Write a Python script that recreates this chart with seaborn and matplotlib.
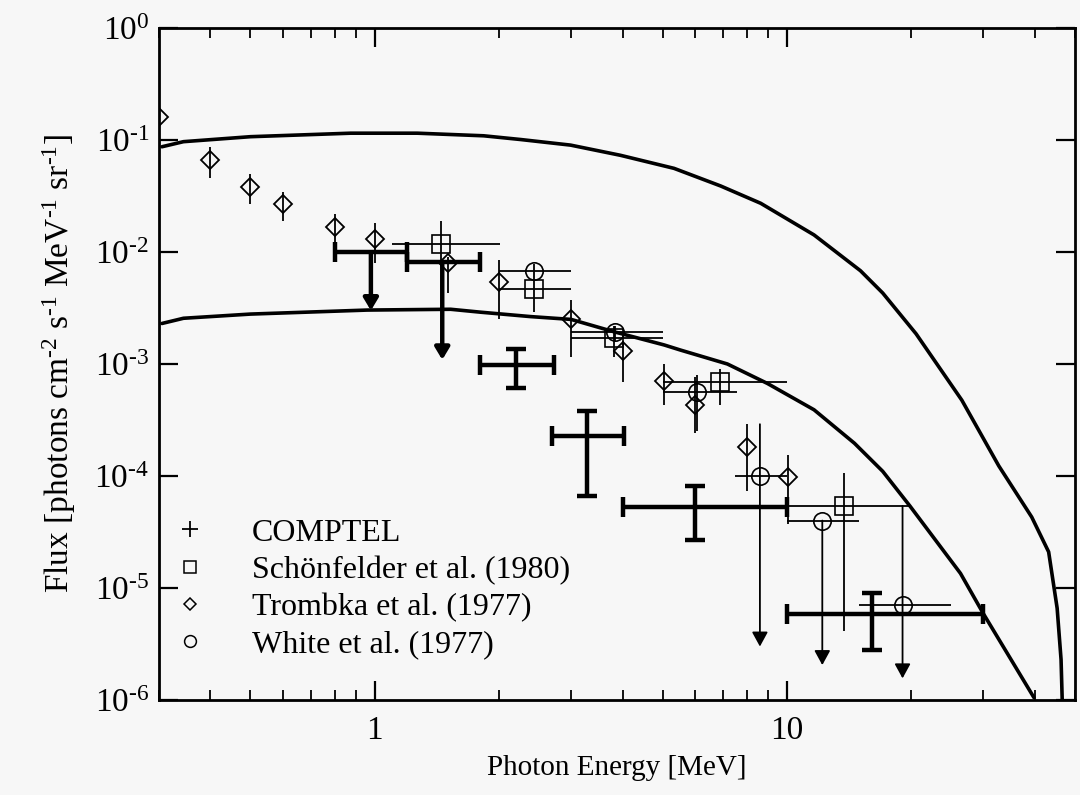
import numpy as np
import matplotlib
matplotlib.use('Agg')
import matplotlib.pyplot as plt
import matplotlib.ticker as ticker
from matplotlib.lines import Line2D
import seaborn as sns

# model curves
upper_E = [0.305, 0.344, 0.5, 0.875, 1.27, 1.84, 2.26, 2.99, 3.95, 5.33, 6.92, 8.65,
           11.65, 15.1, 17.1, 20.6, 26.6, 32.7, 39.3, 43.2, 45.3, 46.3, 46.6]
upper_F = [0.087, 0.0966, 0.107, 0.115, 0.115, 0.109, 0.101, 0.090, 0.073, 0.0558, 0.0388, 0.0272,
           0.0142, 0.0068, 0.0043, 0.00186, 4.75e-4, 1.23e-4, 4.3e-5, 2.1e-5, 6.6e-6, 2.3e-6, 1.0e-6]
lower_E = [0.305, 0.344, 0.5, 0.96, 1.53, 1.81, 2.39, 3.0, 3.81, 5.04, 5.53, 7.18, 8.98,
           11.65, 14.6, 17.1, 19.9, 26.4, 30.0, 39.8]
lower_F = [0.0023, 0.00256, 0.00279, 0.00303, 0.00308, 0.0029, 0.00265, 0.0025, 0.00194, 0.00148,
           1.33e-3, 1.0e-3, 6.7e-4, 3.9e-4, 1.96e-4, 1.1e-4, 5.4e-5, 1.35e-5, 5.9e-6, 1.05e-6]

# COMPTEL
comptel_E = [0.98, 1.46, 2.2, 3.28, 6.0, 16.1]
comptel_Elo = [0.80, 1.2, 1.8, 2.7, 4.0, 10.0]
comptel_Ehi = [1.2, 1.8, 2.72, 4.04, 10.0, 30.0]
comptel_F = [0.0099, 0.0082, 9.8e-4, 2.28e-4, 5.3e-5, 5.86e-6]
comptel_Flo = [0.0030, 0.00109, 6.15e-4, 6.6e-5, 2.7e-5, 2.8e-6]
comptel_Fhi = [0.0099, 0.0082, 1.37e-3, 3.8e-4, 8.2e-5, 9.0e-6]
comptel_ul = [True, True, False, False, False, False]

# Schoenfelder et al. (1980)
sch_E = [1.45, 2.44, 3.81, 6.89, 13.8]
sch_Elo = [1.10, 2.0, 3.0, 5.0, 10.0]
sch_Ehi = [2.02, 3.0, 5.0, 10.0, 20.0]
sch_F = [0.0119, 0.0047, 0.0017, 6.95e-4, 5.4e-5]
sch_Flo = [0.0075, 0.0029, 0.00115, 4.3e-4, 4.1e-6]
sch_Fhi = [0.019, 0.0059, 0.0022, 9.1e-4, 1.06e-4]

# Trombka et al. (1977)
tro_E = [0.30, 0.40, 0.50, 0.60, 0.80, 1.0, 1.51, 2.01, 3.0, 4.01, 5.04, 6.0, 8.03, 10.1]
tro_F = [0.16, 0.066, 0.038, 0.0268, 0.0168, 0.0131, 0.0080, 0.00543, 0.0025, 0.0013,
         7.0e-4, 4.3e-4, 1.83e-4, 9.7e-5]
tro_Fhi = [0.19, 0.087, 0.050, 0.0345, 0.0218, 0.0181, 0.0091, 0.0085, 0.0037, 0.0016,
           9.9e-4, 7.7e-4, 2.9e-4, 1.55e-4]
tro_Flo = [0.135, 0.0455, 0.027, 0.0188, 0.0118, 0.0080, 0.0043, 0.0025, 0.00116, 6.9e-4,
           4.3e-4, 2.4e-4, 7.3e-5, 3.7e-5]

# White et al. (1977)
whi_E = [2.44, 3.83, 6.07, 8.61, 12.2, 19.1]
whi_Elo = [2.0, 3.0, 5.0, 7.5, 10.0, 15.0]
whi_Ehi = [3.0, 5.0, 7.56, 10.0, 15.0, 25.0]
whi_F = [0.0068, 0.00195, 5.66e-4, 1.0e-4, 4.0e-5, 7.05e-6]
whi_Fhi = [0.0078, 0.0022, 7.9e-4, 2.9e-4, 4.0e-5, 5.4e-5]
whi_Flo = [0.0059, 0.0016, 2.5e-4, 3.0e-6, 2.05e-6, 1.56e-6]
whi_ul = [False, False, False, True, True, True]

legend_labels = ['COMPTEL', 'Schönfelder et al. (1980)', 'Trombka et al. (1977)', 'White et al. (1977)']

sns.set_theme(style='ticks')
plt.rcParams['font.family'] = ['Liberation Serif', 'DejaVu Serif']
plt.rcParams['mathtext.fontset'] = 'custom'
plt.rcParams['mathtext.rm'] = 'Liberation Serif'
plt.rcParams['mathtext.it'] = 'Liberation Serif:italic'
plt.rcParams['mathtext.bf'] = 'Liberation Serif:bold'
for k in ['text.color', 'axes.labelcolor', 'xtick.color', 'ytick.color', 'axes.edgecolor']:
    plt.rcParams[k] = 'black'

bg = '#f7f7f7'
fig = plt.figure(figsize=(10.8, 7.95), dpi=100, facecolor=bg)
ax = fig.add_axes([0.1472, 0.1195, 0.848, 0.8453])
ax.set_facecolor(bg)
ax.set_xscale('log')
ax.set_yscale('log')

# curves
sns.lineplot(x=upper_E, y=upper_F, ax=ax, color='black', lw=2.6, sort=False, estimator=None)
sns.lineplot(x=lower_E, y=lower_F, ax=ax, color='black', lw=2.6, sort=False, estimator=None)


def asym(c, lo, hi):
    c, lo, hi = np.asarray(c), np.asarray(lo), np.asarray(hi)
    return [c - lo, hi - c]


def down_arrow(x, ytop, ybot, lw, style):
    ax.annotate('', xy=(x, ybot), xytext=(x, ytop),
                arrowprops=dict(arrowstyle=style, color='black', lw=lw, mutation_scale=16,
                                shrinkA=0, shrinkB=0))


thin = 1.3

# Trombka
ax.errorbar(tro_E, tro_F, yerr=asym(tro_F, tro_Flo, tro_Fhi), fmt='D', ms=9.5,
            mfc='none', mec='black', mew=1.3, ecolor='black', elinewidth=thin, capsize=0, zorder=3)

# Schoenfelder
ax.errorbar(sch_E, sch_F, xerr=asym(sch_E, sch_Elo, sch_Ehi), yerr=asym(sch_F, sch_Flo, sch_Fhi),
            fmt='s', ms=13, mfc='none', mec='black', mew=1.2, ecolor='black', elinewidth=thin,
            capsize=0, zorder=3)

# White
ul = np.array(whi_ul)
wE, wF = np.array(whi_E), np.array(whi_F)
wElo, wEhi = np.array(whi_Elo), np.array(whi_Ehi)
wFlo, wFhi = np.array(whi_Flo), np.array(whi_Fhi)
ax.errorbar(wE[~ul], wF[~ul], xerr=asym(wE[~ul], wElo[~ul], wEhi[~ul]),
            yerr=asym(wF[~ul], wFlo[~ul], wFhi[~ul]), fmt='o', ms=12.5, mfc='none', mec='black',
            mew=1.2, ecolor='black', elinewidth=thin, capsize=0, zorder=3)
ax.errorbar(wE[ul], wF[ul], xerr=asym(wE[ul], wElo[ul], wEhi[ul]), fmt='o', ms=12.5, mfc='none',
            mec='black', mew=1.2, ecolor='black', elinewidth=thin, capsize=0, zorder=3)
for x, top, bot in zip(wE[ul], wFhi[ul], wFlo[ul]):
    down_arrow(x, top, bot, thin, '-|>,head_length=0.55,head_width=0.3')

# COMPTEL
cul = np.array(comptel_ul)
cE, cF = np.array(comptel_E), np.array(comptel_F)
cElo, cEhi = np.array(comptel_Elo), np.array(comptel_Ehi)
cFlo, cFhi = np.array(comptel_Flo), np.array(comptel_Fhi)
ax.errorbar(cE[~cul], cF[~cul], xerr=asym(cE[~cul], cElo[~cul], cEhi[~cul]),
            yerr=asym(cF[~cul], cFlo[~cul], cFhi[~cul]), fmt='none', ecolor='black',
            elinewidth=3.2, capsize=7, capthick=3.2, zorder=4)
ax.errorbar(cE[cul], cF[cul], xerr=asym(cE[cul], cElo[cul], cEhi[cul]), fmt='none', ecolor='black',
            elinewidth=3.2, capsize=7, capthick=3.2, zorder=4)
for x, top, bot in zip(cE[cul], cF[cul], cFlo[cul]):
    down_arrow(x, top, bot, 3.2, '-|>,head_length=0.45,head_width=0.27')

ax.set_xlim(0.3, 50)
ax.set_ylim(1e-6, 1)


def log_label(v, pos):
    n = int(round(np.log10(v)))
    if n < 0:
        return r'$\mathdefault{10^{\text{-}%d}}$' % (-n)
    return r'$\mathdefault{10^{%d}}$' % n


ax.yaxis.set_major_locator(ticker.FixedLocator([1e-6, 1e-5, 1e-4, 1e-3, 1e-2, 1e-1, 1]))
ax.yaxis.set_minor_locator(ticker.NullLocator())
ax.yaxis.set_major_formatter(ticker.FuncFormatter(log_label))
ax.xaxis.set_major_formatter(ticker.FuncFormatter(lambda v, p: f'{v:g}'))
ax.xaxis.set_minor_formatter(ticker.NullFormatter())

ax.tick_params(which='both', direction='in', top=True, right=True, colors='black', labelsize=24)
ax.tick_params(which='major', length=14, width=1.6)
ax.tick_params(which='minor', length=7, width=1.3)
ax.tick_params(axis='x', pad=11)
ax.tick_params(axis='y', pad=7)
for s in ax.spines.values():
    s.set_linewidth(2)
    s.set_color('black')

ax.set_xlabel('Photon Energy [MeV]', fontsize=21, labelpad=7)
ax.set_ylabel(r'Flux [photons cm$^{\text{-}2}$ s$^{\text{-}1}$ MeV$^{\text{-}1}$ sr$^{\text{-}1}$]',
              fontsize=24, labelpad=12)

handles = [
    Line2D([], [], ls='none', marker='+', ms=12, mew=1.3, color='black'),
    Line2D([], [], ls='none', marker='s', ms=8.5, mfc='none', mec='black', mew=1.1),
    Line2D([], [], ls='none', marker='D', ms=6.5, mfc='none', mec='black', mew=1.1),
    Line2D([], [], ls='none', marker='o', ms=8.5, mfc='none', mec='black', mew=1.1),
]
ax.legend(handles, legend_labels, loc='lower left', bbox_to_anchor=(0.0164, 0.06), frameon=False,
          fontsize=23, handletextpad=1.44, labelspacing=0.25, handlelength=1.0,
          borderpad=0, borderaxespad=0)

fig.savefig('out.png', dpi=100, facecolor=bg)
